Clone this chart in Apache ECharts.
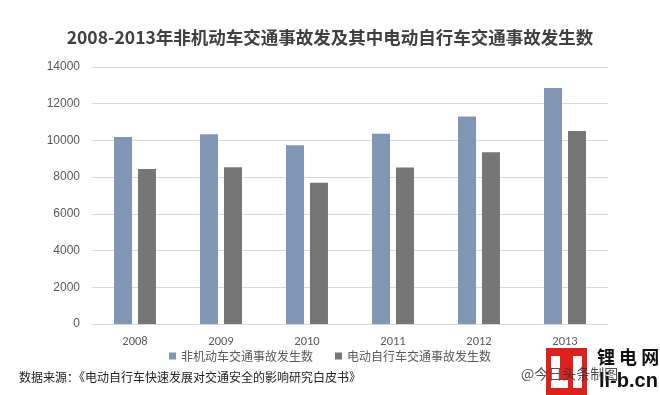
<!DOCTYPE html>
<html><head><meta charset="utf-8">
<script src="https://cdn.jsdelivr.net/npm/echarts@6/dist/echarts.min.js"></script>
<style>html,body{margin:0;padding:0;background:#fff}#c{width:660px;height:395px}</style>
</head><body><div id="c"></div>
<script>
var categories = ['2008','2009','2010','2011','2012','2013'];
var nonMotor = [10180, 10340, 9740, 10360, 11310, 12860];
var eBike = [8450, 8540, 7700, 8520, 9360, 10520];
var seriesNames = ['非机动车交通事故发生数','电动自行车交通事故发生数'];
var titleText = '2008-2013年非机动车交通事故发及其中电动自行车交通事故发生数';
var sourceText = '数据来源：《电动自行车快速发展对交通安全的影响研究白皮书》';

var chart = echarts.init(document.getElementById('c'));
var cjk = '"Noto Sans CJK SC", "Microsoft YaHei", sans-serif';
chart.setOption({
  animation: false,
  backgroundColor: '#fff',
  title: {text: titleText, left: 'center', top: 24,
    textStyle: {fontFamily: cjk, fontSize: 17.5, fontWeight: 'bold', color: '#404040'}},
  legend: {data: seriesNames, bottom: 28, left: 'center', itemWidth: 7, itemHeight: 7, itemGap: 22,
    icon: 'rect', textStyle: {fontFamily: cjk, fontSize: 12, color: '#595959'}},
  grid: {left: 92, right: 52, top: 67, bottom: 71},
  xAxis: {type: 'category', data: categories,
    axisLine: {lineStyle: {color: '#d9d9d9'}}, axisTick: {show: false},
    axisLabel: {color: '#595959', fontFamily: 'Carlito, "Liberation Sans", sans-serif', fontSize: 12.5, margin: 11}},
  yAxis: {type: 'value', min: 0, max: 14000, interval: 2000,
    axisLine: {show: false}, axisTick: {show: false},
    splitLine: {lineStyle: {color: '#d9d9d9'}},
    axisLabel: {color: '#595959', fontFamily: '"Liberation Sans", sans-serif', fontSize: 12, margin: 12,
      formatter: function (v) { return String(v); }}},
  series: [
    {name: seriesNames[0], type: 'bar', data: nonMotor, barWidth: 18, barGap: '33%',
     itemStyle: {color: '#7f96b4'}},
    {name: seriesNames[1], type: 'bar', data: eBike, barWidth: 18,
     itemStyle: {color: '#767676'}}
  ],
  graphic: [
    {type: 'text', left: 19, top: 371, style: {text: sourceText, font: '12px ' + cjk, fill: '#222'}},
    {type: 'rect', shape: {x: 546, y: 348, width: 41, height: 47}, style: {fill: '#e0201b'}},
    {type: 'rect', shape: {x: 551, y: 356, width: 9, height: 32}, style: {fill: '#fff'}},
    {type: 'rect', shape: {x: 551, y: 380, width: 17, height: 8}, style: {fill: '#fff'}},
    {type: 'rect', shape: {x: 573, y: 356, width: 9, height: 32}, style: {fill: '#fff'}},
    {type: 'text', left: 597, top: 348, style: {text: '锂 电 网', font: 'bold 18px ' + cjk, fill: '#111'}},
    {type: 'text', left: 599, top: 371, style: {text: 'li-b.cn', font: 'bold 20px "Liberation Sans", sans-serif', fill: '#111'}},
    {type: 'text', left: 521, top: 367, style: {text: '@今日头条制图', font: '14px ' + cjk, fill: '#333', opacity: 0.85}}
  ]
});
</script></body></html>
